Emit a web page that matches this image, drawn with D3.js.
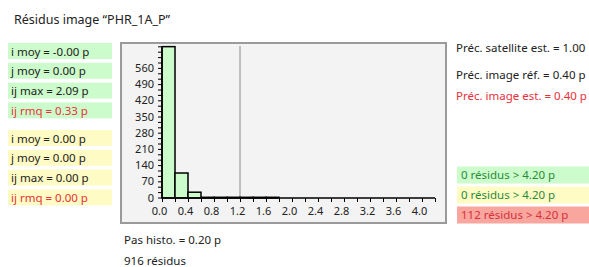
<!DOCTYPE html>
<html>
<head>
<meta charset="utf-8">
<script src="https://cdn.jsdelivr.net/npm/d3@7"></script>
<style>
  body { margin: 0; background: #fff; }
  svg { font-family: "Noto Sans", sans-serif; }
</style>
</head>
<body>
<svg id="chart" width="589" height="267"></svg>
<script>
// histogram bins (start of bin, pixels) and counts
const binStarts = [0.0, 0.2, 0.4, 0.6, 0.8, 1.0, 1.2, 1.4, 1.6];
const binCounts = [654, 108, 25, 3, 3, 3, 3, 3, 3];
const binWidth = 0.2;
const yTickLabels = [0, 70, 140, 210, 280, 350, 420, 490, 560];
const xTickLabels = [0.0, 0.4, 0.8, 1.2, 1.6, 2.0, 2.4, 2.8, 3.2, 3.6, 4.0];
const refLine = 1.2;

const leftGreen = ['i moy = -0.00 p', 'j moy = 0.00 p', 'ij max = 2.09 p', 'ij rmq = 0.33 p'];
const leftYellow = ['i moy = 0.00 p', 'j moy = 0.00 p', 'ij max = 0.00 p', 'ij rmq = 0.00 p'];
const rightInfo = ['Préc. satellite est. = 1.00', 'Préc. image réf. = 0.40 p', 'Préc. image est. = 0.40 p'];
const rightBoxes = ['0 résidus > 4.20 p', '0 résidus > 4.20 p', '112 résidus > 4.20 p'];

const svg = d3.select('#chart');
const fs = 11.5;

svg.append('text')
  .attr('x', 14).attr('y', 24)
  .attr('font-size', 12.5)
  .attr('fill', '#222')
  .text('Résidus image “PHR_1A_P”');

// left stat boxes
function statBoxes(labels, y0, fill) {
  const g = svg.append('g');
  labels.forEach((t, i) => {
    const y = y0 + i * 19.8;
    g.append('rect').attr('x', 8).attr('y', y).attr('width', 104).attr('height', 16).attr('fill', fill);
    g.append('text').attr('x', 11).attr('y', y + 12.5)
      .attr('font-size', fs)
      .attr('fill', i === 3 ? '#e8303a' : '#222')
      .text(t);
  });
}
statBoxes(leftGreen, 43, '#ccfccb');
statBoxes(leftYellow, 130, '#fffbc4');

// plot frame
svg.append('rect')
  .attr('x', 121).attr('y', 43).attr('width', 325).attr('height', 180)
  .attr('fill', '#f3f3f3').attr('stroke', '#9a9a9a').attr('stroke-width', 2);

const x = d3.scaleLinear().domain([0, 4.2]).range([162, 435]);
const y = d3.scaleLinear().domain([0, 70]).range([198, 181.8]);

// reference line
svg.append('line')
  .attr('x1', x(refLine)).attr('x2', x(refLine))
  .attr('y1', 46).attr('y2', y(0))
  .attr('stroke', '#8a8a8a').attr('stroke-width', 1);

// bars
svg.append('g').selectAll('rect')
  .data(binStarts.map((s, i) => ({ s, c: binCounts[i] })))
  .join('rect')
  .attr('x', (d) => x(d.s))
  .attr('y', (d) => y(d.c))
  .attr('width', (d) => x(d.s + binWidth) - x(d.s))
  .attr('height', (d) => y(0) - y(d.c))
  .attr('fill', '#ccfccb')
  .attr('stroke', '#000')
  .attr('stroke-width', 1.5);

// y axis
const yMinor = d3.range(0, 654, 70 / 3);
const yAxis = svg.append('g').attr('transform', `translate(${x(0)},0)`);
yAxis.append('line').attr('x1', 0).attr('x2', 0).attr('y1', y(650)).attr('y2', y(0))
  .attr('stroke', '#000').attr('stroke-width', 1.5);
yAxis.selectAll('line.tk').data(yMinor).join('line').attr('class', 'tk')
  .attr('x1', -4).attr('x2', 0).attr('y1', (d) => y(d)).attr('y2', (d) => y(d))
  .attr('stroke', '#000').attr('stroke-width', 1);
yAxis.selectAll('text').data(yTickLabels).join('text')
  .attr('x', -8).attr('y', (d) => y(d) + 3.5)
  .attr('text-anchor', 'end').attr('font-size', 11).attr('fill', '#222')
  .text((d) => d);

// x axis
const xAxis = d3.axisBottom(x)
  .tickValues(d3.range(0, 4.21, 0.2))
  .tickSize(4)
  .tickFormat((d) => (xTickLabels.some((v) => Math.abs(v - d) < 1e-6) ? d.toFixed(1) : ''));
const xg = svg.append('g').attr('transform', `translate(0,${y(0)})`).call(xAxis);
xg.select('.domain').attr('stroke', '#000').attr('stroke-width', 1.5).attr('d', `M${x(0)},0H${x(4.2)}`);
xg.selectAll('.tick line').attr('stroke', '#000');
xg.selectAll('.tick text').attr('font-size', 11).attr('fill', '#222').attr('font-family', 'Noto Sans')
  .attr('dx', -3).attr('y', 9);

// right info
const infoY = [52, 79, 100];
rightInfo.forEach((t, i) => {
  svg.append('text').attr('x', 456).attr('y', infoY[i])
    .attr('font-size', fs).attr('fill', i === 2 ? '#e8303a' : '#222')
    .text(t);
});

const boxFill = ['#ccfccb', '#fffbc4', '#f9a69e'];
const boxText = ['#2a8a3a', '#2a8a3a', '#d6303a'];
rightBoxes.forEach((t, i) => {
  const yy = 166.5 + i * 20;
  svg.append('rect').attr('x', 457).attr('y', yy).attr('width', 140).attr('height', 17).attr('fill', boxFill[i]);
  svg.append('text').attr('x', 461).attr('y', yy + 12.8)
    .attr('font-size', fs).attr('fill', boxText[i]).text(t);
});

svg.append('text').attr('x', 124).attr('y', 244).attr('font-size', fs).attr('fill', '#222').text('Pas histo. = 0.20 p');
svg.append('text').attr('x', 124).attr('y', 265).attr('font-size', fs).attr('fill', '#222').text('916 résidus');
</script>
</body>
</html>
